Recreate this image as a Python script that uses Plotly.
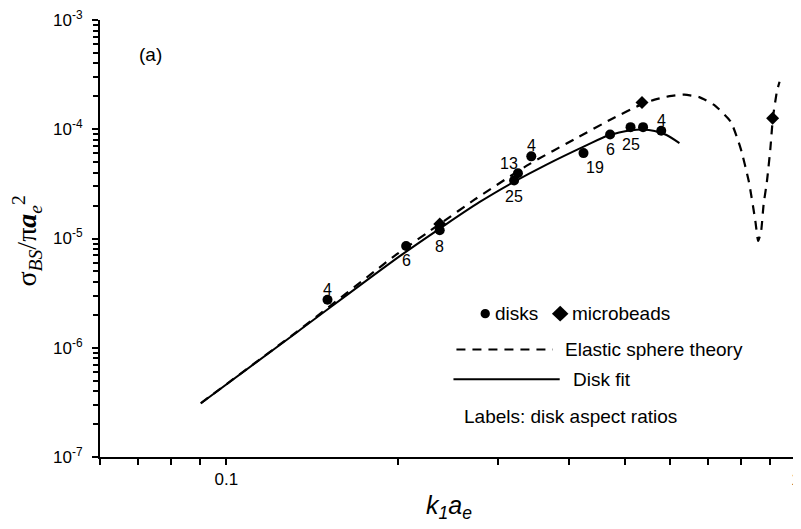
import numpy as np
import plotly.graph_objects as go

# ---------------- data ----------------
disk_x = [0.1505, 0.2068, 0.2369, 0.3200, 0.3250, 0.3430, 0.4236, 0.4717, 0.5123, 0.5389, 0.5800]
disk_y = [2.75e-6, 8.55e-6, 1.19e-5, 3.39e-5, 3.95e-5, 5.65e-5, 6.05e-5, 8.95e-5, 1.045e-4, 1.045e-4, 9.69e-5]
disk_labels = ['4', '6', '8', '25', '13', '4', '19', '6', '25', '', '4']

bead_x = [0.2369, 0.5366, 0.9099]
bead_y = [1.36e-5, 1.76e-4, 1.26e-4]

theory_x = [0.09013, 0.13341, 0.19918, 0.23692, 0.27257, 0.33979, 0.41515, 0.47474, 0.53893,
            0.56473, 0.59968, 0.63689, 0.67630, 0.71815, 0.76788, 0.79919, 0.82628, 0.84854, 0.85811,
            0.86849, 0.87723, 0.88919, 0.90132, 0.91076, 0.92560, 0.93563]
theory_y = [3.104e-7, 1.421e-6, 7.178e-6, 1.356e-5, 2.266e-5, 4.77e-5, 8.50e-5, 1.2405e-4, 1.7159e-4,
            1.8664e-4, 2.0090e-4, 2.0733e-4, 1.967e-4, 1.670e-4, 1.1765e-4, 6.72e-5, 3.342e-5, 1.443e-5, 9.49e-6,
            1.170e-5, 2.049e-5, 3.342e-5, 6.54e-5, 1.261e-4, 2.208e-4, 2.723e-4]

fit_x = [0.09036, 0.13341, 0.20184, 0.23692, 0.27809, 0.32003, 0.36339, 0.42658, 0.46832,
         0.51437, 0.53828, 0.56473, 0.59253, 0.62424]
fit_y = [3.124e-7, 1.403e-6, 6.93e-6, 1.233e-5, 2.15e-5, 3.307e-5, 4.70e-5, 7.05e-5, 8.77e-5,
         9.80e-5, 9.95e-5, 9.64e-5, 8.86e-5, 7.46e-5]

x_major = [0.1, 1.0]
x_major_text = ['0.1', '1']
x_minor = [0.06, 0.07, 0.08, 0.09, 0.2, 0.3, 0.4, 0.5, 0.6, 0.7, 0.8, 0.9]
y_decades = [-7, -6, -5, -4, -3]

# ---------------- figure ----------------
# the page body has an 8px margin: size the figure so that it fills the window exactly
W, H = 793, 521
L, R, T, B = 92, 0, 10, 72
OFF = 8
pw, ph = W - L - R, H - T - B


def px(x_page):
    return (x_page - OFF - L) / pw


def py(y_page):
    return (H - B - (y_page - OFF)) / ph


fig = go.Figure()

fig.add_trace(go.Scatter(x=theory_x, y=theory_y, mode='lines',
                         line=dict(color='black', width=2.2, dash='9px,7px', shape='spline', smoothing=0.5),
                         showlegend=False, hoverinfo='skip'))
fig.add_trace(go.Scatter(x=fit_x, y=fit_y, mode='lines',
                         line=dict(color='black', width=2, shape='spline', smoothing=0.9),
                         showlegend=False, hoverinfo='skip'))
fig.add_trace(go.Scatter(x=disk_x, y=disk_y, mode='markers',
                         marker=dict(symbol='circle', size=10, color='black'),
                         showlegend=False))
fig.add_trace(go.Scatter(x=bead_x, y=bead_y, mode='markers',
                         marker=dict(symbol='diamond', size=10, color='black'),
                         showlegend=False))

# data labels (pixel offsets per label)
label_offsets = [(0, 10), (0, -15), (0, -16), (0, -16), (-9, 10), (0, 11), (11, -14), (0, -15), (0, -17), (0, 0), (0, 10)]
annotations = []
for xv, yv, t, (dx, dy) in zip(disk_x, disk_y, disk_labels, label_offsets):
    if not t:
        continue
    annotations.append(dict(x=np.log10(xv), y=np.log10(yv), xref='x', yref='y', text=t,
                            showarrow=False, xshift=dx, yshift=dy, xanchor='center', yanchor='middle',
                            font=dict(family='Arial, Liberation Sans', size=16, color='black')))

# panel label
annotations.append(dict(x=px(151), y=py(53), xref='paper', yref='paper', text='(a)', showarrow=False,
                        xanchor='center', yanchor='middle',
                        font=dict(family='Arial, Liberation Sans', size=19, color='black')))

# axis titles
annotations.append(dict(x=px(27), y=py(240), xref='paper', yref='paper', textangle=-90,
                        text='σ<sub><i>BS</i></sub>/π<b><i>a</i></b><sub><i>e</i></sub><sup>2</sup>',
                        showarrow=False, xanchor='center', yanchor='middle',
                        font=dict(family='Liberation Serif, Times New Roman', size=28, color='black')))
annotations.append(dict(x=px(452), y=py(507), xref='paper', yref='paper',
                        text='<i>k</i><sub><i>1</i></sub><i>a</i><sub><i>e</i></sub>',
                        showarrow=False, xanchor='center', yanchor='middle',
                        font=dict(family='Arial, Liberation Sans', size=25, color='black')))

# legend texts
leg_font = dict(family='Arial, Liberation Sans', size=19, color='black')
for tx, xx, yy in [('disks', 496, 313), ('microbeads', 573, 313), ('Elastic sphere theory', 566, 349),
                   ('Disk fit', 574, 379), ('Labels: disk aspect ratios', 465, 416)]:
    annotations.append(dict(x=px(xx), y=py(yy), xref='paper', yref='paper', text=tx, showarrow=False,
                            xanchor='left', yanchor='middle', font=leg_font))

shapes = []
r = 4.7
shapes.append(dict(type='circle', xref='paper', yref='paper', x0=px(488 - r), x1=px(488 + r),
                   y0=py(313 + r), y1=py(313 - r), fillcolor='black', line=dict(width=0)))
cx, cy, hw, hh = 563.5, 313, 8.3, 8
shapes.append(dict(type='path', xref='paper', yref='paper',
                   path=f'M{px(cx - hw)},{py(cy)} L{px(cx)},{py(cy - hh)} L{px(cx + hw)},{py(cy)} L{px(cx)},{py(cy + hh)} Z',
                   fillcolor='black', line=dict(width=0)))
shapes.append(dict(type='line', xref='paper', yref='paper', x0=px(459), x1=px(556), y0=py(349), y1=py(349),
                   line=dict(color='black', width=2.2, dash='9px,7px')))
shapes.append(dict(type='line', xref='paper', yref='paper', x0=px(456), x1=px(563), y0=py(379), y1=py(379),
                   line=dict(color='black', width=2)))

y_major = [10.0 ** d for d in y_decades]
y_major_text = [f'10<sup>{d}</sup>' for d in y_decades]
y_minor = [m * 10.0 ** d for d in y_decades[:-1] for m in range(2, 10)]

tick_font = dict(family='Arial, Liberation Sans', size=17, color='black')
fig.update_layout(
    width=W, height=H,
    margin=dict(l=L, r=R, t=T, b=B),
    paper_bgcolor='white', plot_bgcolor='white',
    showlegend=False,
    annotations=annotations,
    shapes=shapes,
    xaxis=dict(type='log', range=[np.log10(0.06), 0], showgrid=False, zeroline=False,
               showline=True, linecolor='black', linewidth=2,
               ticks='outside', ticklen=6, tickwidth=2, tickcolor='black',
               tickmode='array', tickvals=x_major, ticktext=x_major_text, tickfont=tick_font,
               ticklabeloverflow='allow',
               minor=dict(tickmode='array', tickvals=x_minor, ticks='outside', ticklen=6,
                          tickwidth=2, tickcolor='black', showgrid=False)),
    yaxis=dict(type='log', range=[-7, -3], showgrid=False, zeroline=False,
               showline=True, linecolor='black', linewidth=2,
               ticks='outside', ticklen=6, tickwidth=2, tickcolor='black',
               tickmode='array', tickvals=y_major, ticktext=y_major_text, tickfont=tick_font,
               ticklabelstandoff=6, ticklabeloverflow='allow',
               minor=dict(tickmode='array', tickvals=y_minor, ticks='outside', ticklen=5,
                          tickwidth=2, tickcolor='black', showgrid=False)),
)

fig.write_html('out.html')
